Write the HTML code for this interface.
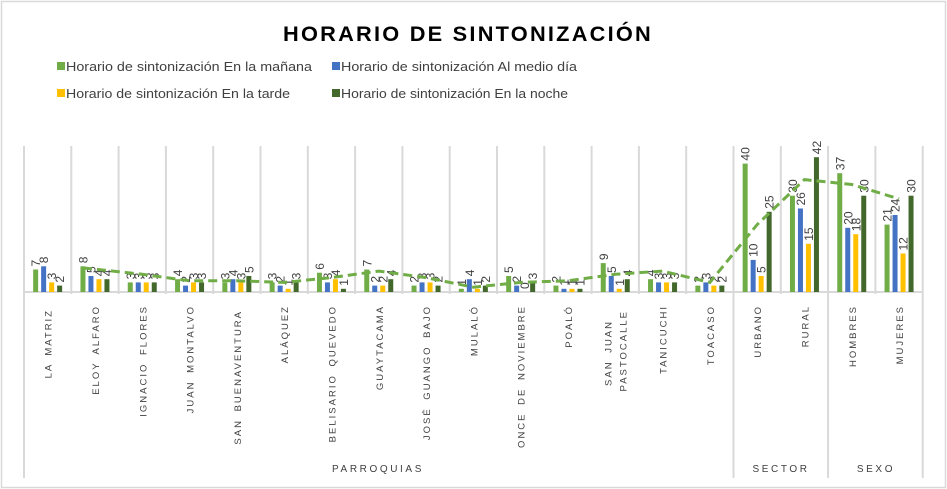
<!DOCTYPE html>
<html><head><meta charset="utf-8"><style>
html,body{margin:0;padding:0;background:#fff;}
svg{display:block;font-family:"Liberation Sans",sans-serif;}
.v{font-size:12px;fill:#404040;}
.c{font-size:9.5px;fill:#404040;letter-spacing:2px;word-spacing:3px;text-anchor:end;}
.g{font-size:10px;fill:#404040;letter-spacing:2.6px;text-anchor:middle;}
.lg{font-size:13px;fill:#404040;}
</style></head><body>
<svg width="947" height="489" viewBox="0 0 947 489">
<rect x="1.5" y="1.5" width="944" height="486" fill="#fff" stroke="#D9D9D9" stroke-width="1.5"/>
<text x="468" y="41" text-anchor="middle" font-size="21.5" font-weight="bold" fill="#000" letter-spacing="2.2" textLength="370" lengthAdjust="spacingAndGlyphs">HORARIO DE SINTONIZACIÓN</text>
<rect x="57" y="62" width="8" height="8" fill="#70AD47"/><text class="lg" x="66" y="71" textLength="246" lengthAdjust="spacingAndGlyphs">Horario de sintonización  En la mañana</text>
<rect x="332" y="62" width="8" height="8" fill="#4472C4"/><text class="lg" x="341" y="71" textLength="236" lengthAdjust="spacingAndGlyphs">Horario de sintonización  Al medio día</text>
<rect x="57" y="89" width="8" height="8" fill="#FFC000"/><text class="lg" x="66" y="98" textLength="224" lengthAdjust="spacingAndGlyphs">Horario de sintonización  En la tarde</text>
<rect x="332" y="89" width="8" height="8" fill="#43682B"/><text class="lg" x="341" y="98" textLength="227" lengthAdjust="spacingAndGlyphs">Horario de sintonización  En la noche</text>
<g stroke="#D9D9D9" stroke-width="2">
<line x1="24" y1="146" x2="24" y2="478"/><line x1="71.3" y1="146" x2="71.3" y2="294"/><line x1="118.6" y1="146" x2="118.6" y2="294"/><line x1="165.9" y1="146" x2="165.9" y2="294"/><line x1="213.2" y1="146" x2="213.2" y2="294"/><line x1="260.5" y1="146" x2="260.5" y2="294"/><line x1="307.8" y1="146" x2="307.8" y2="294"/><line x1="355.1" y1="146" x2="355.1" y2="294"/><line x1="402.4" y1="146" x2="402.4" y2="294"/><line x1="449.7" y1="146" x2="449.7" y2="294"/><line x1="497" y1="146" x2="497" y2="294"/><line x1="544.3" y1="146" x2="544.3" y2="294"/><line x1="591.6" y1="146" x2="591.6" y2="294"/><line x1="638.9" y1="146" x2="638.9" y2="294"/><line x1="686.2" y1="146" x2="686.2" y2="294"/><line x1="733.5" y1="146" x2="733.5" y2="478"/><line x1="780.8" y1="146" x2="780.8" y2="294"/><line x1="828.1" y1="146" x2="828.1" y2="478"/><line x1="875.4" y1="146" x2="875.4" y2="294"/><line x1="922.7" y1="146" x2="922.7" y2="478"/>
<line x1="24" y1="292" x2="923" y2="292"/>
</g>
<g transform="translate(47.65,0)"><rect x="-14.5" y="269.5" width="5" height="22.5" fill="#70AD47"/><rect x="-6.5" y="266.3" width="5" height="25.7" fill="#4472C4"/><rect x="1.5" y="282.4" width="5" height="9.6" fill="#FFC000"/><rect x="9.5" y="285.6" width="5" height="6.4" fill="#43682B"/>
<text class="v" transform="translate(-7.5,266.5) rotate(-90)">7</text><text class="v" transform="translate(0.5,263.3) rotate(-90)">8</text><text class="v" transform="translate(8.5,279.4) rotate(-90)">3</text><text class="v" transform="translate(16.5,282.6) rotate(-90)">2</text>
<text class="c" transform="translate(4,309) rotate(-90)">LA MATRIZ</text></g>
<g transform="translate(94.95,0)"><rect x="-14.5" y="266.3" width="5" height="25.7" fill="#70AD47"/><rect x="-6.5" y="276" width="5" height="16" fill="#4472C4"/><rect x="1.5" y="279.2" width="5" height="12.8" fill="#FFC000"/><rect x="9.5" y="279.2" width="5" height="12.8" fill="#43682B"/>
<text class="v" transform="translate(-7.5,263.3) rotate(-90)">8</text><text class="v" transform="translate(0.5,273) rotate(-90)">5</text><text class="v" transform="translate(8.5,276.2) rotate(-90)">4</text><text class="v" transform="translate(16.5,276.2) rotate(-90)">4</text>
<text class="c" transform="translate(4,305) rotate(-90)">ELOY ALFARO</text></g>
<g transform="translate(142.25,0)"><rect x="-14.5" y="282.4" width="5" height="9.6" fill="#70AD47"/><rect x="-6.5" y="282.4" width="5" height="9.6" fill="#4472C4"/><rect x="1.5" y="282.4" width="5" height="9.6" fill="#FFC000"/><rect x="9.5" y="282.4" width="5" height="9.6" fill="#43682B"/>
<text class="v" transform="translate(-7.5,279.4) rotate(-90)">3</text><text class="v" transform="translate(0.5,279.4) rotate(-90)">3</text><text class="v" transform="translate(8.5,279.4) rotate(-90)">3</text><text class="v" transform="translate(16.5,279.4) rotate(-90)">3</text>
<text class="c" transform="translate(4,305) rotate(-90)">IGNACIO FLORES</text></g>
<g transform="translate(189.55,0)"><rect x="-14.5" y="279.2" width="5" height="12.8" fill="#70AD47"/><rect x="-6.5" y="285.6" width="5" height="6.4" fill="#4472C4"/><rect x="1.5" y="282.4" width="5" height="9.6" fill="#FFC000"/><rect x="9.5" y="282.4" width="5" height="9.6" fill="#43682B"/>
<text class="v" transform="translate(-7.5,276.2) rotate(-90)">4</text><text class="v" transform="translate(0.5,282.6) rotate(-90)">2</text><text class="v" transform="translate(8.5,279.4) rotate(-90)">3</text><text class="v" transform="translate(16.5,279.4) rotate(-90)">3</text>
<text class="c" transform="translate(4,305) rotate(-90)">JUAN MONTALVO</text></g>
<g transform="translate(236.85,0)"><rect x="-14.5" y="282.4" width="5" height="9.6" fill="#70AD47"/><rect x="-6.5" y="279.2" width="5" height="12.8" fill="#4472C4"/><rect x="1.5" y="282.4" width="5" height="9.6" fill="#FFC000"/><rect x="9.5" y="276" width="5" height="16" fill="#43682B"/>
<text class="v" transform="translate(-7.5,279.4) rotate(-90)">3</text><text class="v" transform="translate(0.5,276.2) rotate(-90)">4</text><text class="v" transform="translate(8.5,279.4) rotate(-90)">3</text><text class="v" transform="translate(16.5,273) rotate(-90)">5</text>
<text class="c" transform="translate(4,310) rotate(-90)">SAN BUENAVENTURA</text></g>
<g transform="translate(284.15,0)"><rect x="-14.5" y="282.4" width="5" height="9.6" fill="#70AD47"/><rect x="-6.5" y="285.6" width="5" height="6.4" fill="#4472C4"/><rect x="1.5" y="288.8" width="5" height="3.2" fill="#FFC000"/><rect x="9.5" y="282.4" width="5" height="9.6" fill="#43682B"/>
<text class="v" transform="translate(-7.5,279.4) rotate(-90)">3</text><text class="v" transform="translate(0.5,282.6) rotate(-90)">2</text><text class="v" transform="translate(8.5,285.8) rotate(-90)">1</text><text class="v" transform="translate(16.5,279.4) rotate(-90)">3</text>
<text class="c" transform="translate(4,305) rotate(-90)">ALÁQUEZ</text></g>
<g transform="translate(331.45,0)"><rect x="-14.5" y="272.7" width="5" height="19.3" fill="#70AD47"/><rect x="-6.5" y="282.4" width="5" height="9.6" fill="#4472C4"/><rect x="1.5" y="279.2" width="5" height="12.8" fill="#FFC000"/><rect x="9.5" y="288.8" width="5" height="3.2" fill="#43682B"/>
<text class="v" transform="translate(-7.5,269.7) rotate(-90)">6</text><text class="v" transform="translate(0.5,279.4) rotate(-90)">3</text><text class="v" transform="translate(8.5,276.2) rotate(-90)">4</text><text class="v" transform="translate(16.5,285.8) rotate(-90)">1</text>
<text class="c" transform="translate(4,305) rotate(-90)">BELISARIO QUEVEDO</text></g>
<g transform="translate(378.75,0)"><rect x="-14.5" y="269.5" width="5" height="22.5" fill="#70AD47"/><rect x="-6.5" y="285.6" width="5" height="6.4" fill="#4472C4"/><rect x="1.5" y="285.6" width="5" height="6.4" fill="#FFC000"/><rect x="9.5" y="279.2" width="5" height="12.8" fill="#43682B"/>
<text class="v" transform="translate(-7.5,266.5) rotate(-90)">7</text><text class="v" transform="translate(0.5,282.6) rotate(-90)">2</text><text class="v" transform="translate(8.5,282.6) rotate(-90)">2</text><text class="v" transform="translate(16.5,276.2) rotate(-90)">4</text>
<text class="c" transform="translate(4,305) rotate(-90)">GUAYTACAMA</text></g>
<g transform="translate(426.05,0)"><rect x="-14.5" y="285.6" width="5" height="6.4" fill="#70AD47"/><rect x="-6.5" y="282.4" width="5" height="9.6" fill="#4472C4"/><rect x="1.5" y="282.4" width="5" height="9.6" fill="#FFC000"/><rect x="9.5" y="285.6" width="5" height="6.4" fill="#43682B"/>
<text class="v" transform="translate(-7.5,282.6) rotate(-90)">2</text><text class="v" transform="translate(0.5,279.4) rotate(-90)">3</text><text class="v" transform="translate(8.5,279.4) rotate(-90)">3</text><text class="v" transform="translate(16.5,282.6) rotate(-90)">2</text>
<text class="c" transform="translate(4,305) rotate(-90)">JOSÉ GUANGO BAJO</text></g>
<g transform="translate(473.35,0)"><rect x="-14.5" y="288.8" width="5" height="3.2" fill="#70AD47"/><rect x="-6.5" y="279.2" width="5" height="12.8" fill="#4472C4"/><rect x="1.5" y="288.8" width="5" height="3.2" fill="#FFC000"/><rect x="9.5" y="285.6" width="5" height="6.4" fill="#43682B"/>
<text class="v" transform="translate(-7.5,285.8) rotate(-90)">1</text><text class="v" transform="translate(0.5,276.2) rotate(-90)">4</text><text class="v" transform="translate(8.5,285.8) rotate(-90)">1</text><text class="v" transform="translate(16.5,282.6) rotate(-90)">2</text>
<text class="c" transform="translate(4,305) rotate(-90)">MULALÓ</text></g>
<g transform="translate(520.65,0)"><rect x="-14.5" y="276" width="5" height="16" fill="#70AD47"/><rect x="-6.5" y="285.6" width="5" height="6.4" fill="#4472C4"/><rect x="9.5" y="282.4" width="5" height="9.6" fill="#43682B"/>
<text class="v" transform="translate(-7.5,273) rotate(-90)">5</text><text class="v" transform="translate(0.5,282.6) rotate(-90)">2</text><text class="v" transform="translate(8.5,289) rotate(-90)">0</text><text class="v" transform="translate(16.5,279.4) rotate(-90)">3</text>
<text class="c" transform="translate(4,305) rotate(-90)">ONCE DE NOVIEMBRE</text></g>
<g transform="translate(567.95,0)"><rect x="-14.5" y="285.6" width="5" height="6.4" fill="#70AD47"/><rect x="-6.5" y="288.8" width="5" height="3.2" fill="#4472C4"/><rect x="1.5" y="288.8" width="5" height="3.2" fill="#FFC000"/><rect x="9.5" y="288.8" width="5" height="3.2" fill="#43682B"/>
<text class="v" transform="translate(-7.5,282.6) rotate(-90)">2</text><text class="v" transform="translate(0.5,285.8) rotate(-90)">1</text><text class="v" transform="translate(8.5,285.8) rotate(-90)">1</text><text class="v" transform="translate(16.5,285.8) rotate(-90)">1</text>
<text class="c" transform="translate(4,305) rotate(-90)">POALÓ</text></g>
<g transform="translate(615.25,0)"><rect x="-14.5" y="263.1" width="5" height="28.9" fill="#70AD47"/><rect x="-6.5" y="276" width="5" height="16" fill="#4472C4"/><rect x="1.5" y="288.8" width="5" height="3.2" fill="#FFC000"/><rect x="9.5" y="279.2" width="5" height="12.8" fill="#43682B"/>
<text class="v" transform="translate(-7.5,260.1) rotate(-90)">9</text><text class="v" transform="translate(0.5,273) rotate(-90)">5</text><text class="v" transform="translate(8.5,285.8) rotate(-90)">1</text><text class="v" transform="translate(16.5,276.2) rotate(-90)">4</text>
<text class="c" transform="translate(-4,320) rotate(-90)">SAN JUAN</text><text class="c" transform="translate(11,310) rotate(-90)">PASTOCALLE</text></g>
<g transform="translate(662.55,0)"><rect x="-14.5" y="279.2" width="5" height="12.8" fill="#70AD47"/><rect x="-6.5" y="282.4" width="5" height="9.6" fill="#4472C4"/><rect x="1.5" y="282.4" width="5" height="9.6" fill="#FFC000"/><rect x="9.5" y="282.4" width="5" height="9.6" fill="#43682B"/>
<text class="v" transform="translate(-7.5,276.2) rotate(-90)">4</text><text class="v" transform="translate(0.5,279.4) rotate(-90)">3</text><text class="v" transform="translate(8.5,279.4) rotate(-90)">3</text><text class="v" transform="translate(16.5,279.4) rotate(-90)">3</text>
<text class="c" transform="translate(4,305) rotate(-90)">TANICUCHI</text></g>
<g transform="translate(709.85,0)"><rect x="-14.5" y="285.6" width="5" height="6.4" fill="#70AD47"/><rect x="-6.5" y="282.4" width="5" height="9.6" fill="#4472C4"/><rect x="1.5" y="285.6" width="5" height="6.4" fill="#FFC000"/><rect x="9.5" y="285.6" width="5" height="6.4" fill="#43682B"/>
<text class="v" transform="translate(-7.5,282.6) rotate(-90)">2</text><text class="v" transform="translate(0.5,279.4) rotate(-90)">3</text><text class="v" transform="translate(8.5,282.6) rotate(-90)">2</text><text class="v" transform="translate(16.5,282.6) rotate(-90)">2</text>
<text class="c" transform="translate(4,305) rotate(-90)">TOACASO</text></g>
<g transform="translate(757.15,0)"><rect x="-14.5" y="163.6" width="5" height="128.4" fill="#70AD47"/><rect x="-6.5" y="259.9" width="5" height="32.1" fill="#4472C4"/><rect x="1.5" y="276" width="5" height="16" fill="#FFC000"/><rect x="9.5" y="211.8" width="5" height="80.2" fill="#43682B"/>
<text class="v" transform="translate(-7.5,160.6) rotate(-90)">40</text><text class="v" transform="translate(0.5,256.9) rotate(-90)">10</text><text class="v" transform="translate(8.5,273) rotate(-90)">5</text><text class="v" transform="translate(16.5,208.8) rotate(-90)">25</text>
<text class="c" transform="translate(4,305) rotate(-90)">URBANO</text></g>
<g transform="translate(804.45,0)"><rect x="-14.5" y="195.7" width="5" height="96.3" fill="#70AD47"/><rect x="-6.5" y="208.5" width="5" height="83.5" fill="#4472C4"/><rect x="1.5" y="243.8" width="5" height="48.2" fill="#FFC000"/><rect x="9.5" y="157.2" width="5" height="134.8" fill="#43682B"/>
<text class="v" transform="translate(-7.5,192.7) rotate(-90)">30</text><text class="v" transform="translate(0.5,205.5) rotate(-90)">26</text><text class="v" transform="translate(8.5,240.8) rotate(-90)">15</text><text class="v" transform="translate(16.5,154.2) rotate(-90)">42</text>
<text class="c" transform="translate(4,305) rotate(-90)">RURAL</text></g>
<g transform="translate(851.75,0)"><rect x="-14.5" y="173.2" width="5" height="118.8" fill="#70AD47"/><rect x="-6.5" y="227.8" width="5" height="64.2" fill="#4472C4"/><rect x="1.5" y="234.2" width="5" height="57.8" fill="#FFC000"/><rect x="9.5" y="195.7" width="5" height="96.3" fill="#43682B"/>
<text class="v" transform="translate(-7.5,170.2) rotate(-90)">37</text><text class="v" transform="translate(0.5,224.8) rotate(-90)">20</text><text class="v" transform="translate(8.5,231.2) rotate(-90)">18</text><text class="v" transform="translate(16.5,192.7) rotate(-90)">30</text>
<text class="c" transform="translate(4,305) rotate(-90)">HOMBRES</text></g>
<g transform="translate(899.05,0)"><rect x="-14.5" y="224.6" width="5" height="67.4" fill="#70AD47"/><rect x="-6.5" y="215" width="5" height="77" fill="#4472C4"/><rect x="1.5" y="253.5" width="5" height="38.5" fill="#FFC000"/><rect x="9.5" y="195.7" width="5" height="96.3" fill="#43682B"/>
<text class="v" transform="translate(-7.5,221.6) rotate(-90)">21</text><text class="v" transform="translate(0.5,212) rotate(-90)">24</text><text class="v" transform="translate(8.5,250.5) rotate(-90)">12</text><text class="v" transform="translate(16.5,192.7) rotate(-90)">30</text>
<text class="c" transform="translate(4,305) rotate(-90)">MUJERES</text></g>
<polyline fill="none" stroke="#70AD47" stroke-width="3" stroke-dasharray="9,5" points="83,267.9 142.25,274.3 189.55,280.8 236.85,280.8 284.15,282.4 331.45,277.6 378.75,271.1 426.05,277.6 473.35,287.2 520.65,282.4 567.95,280.8 615.25,274.3 662.55,271.1 709.85,282.4 757.15,224.6 804.45,179.6 851.75,184.5 899.05,198.9"/>
<text class="g" x="378" y="472">PARROQUIAS</text>
<text class="g" x="781" y="472">SECTOR</text>
<text class="g" x="876" y="472">SEXO</text>
</svg>
</body></html>
